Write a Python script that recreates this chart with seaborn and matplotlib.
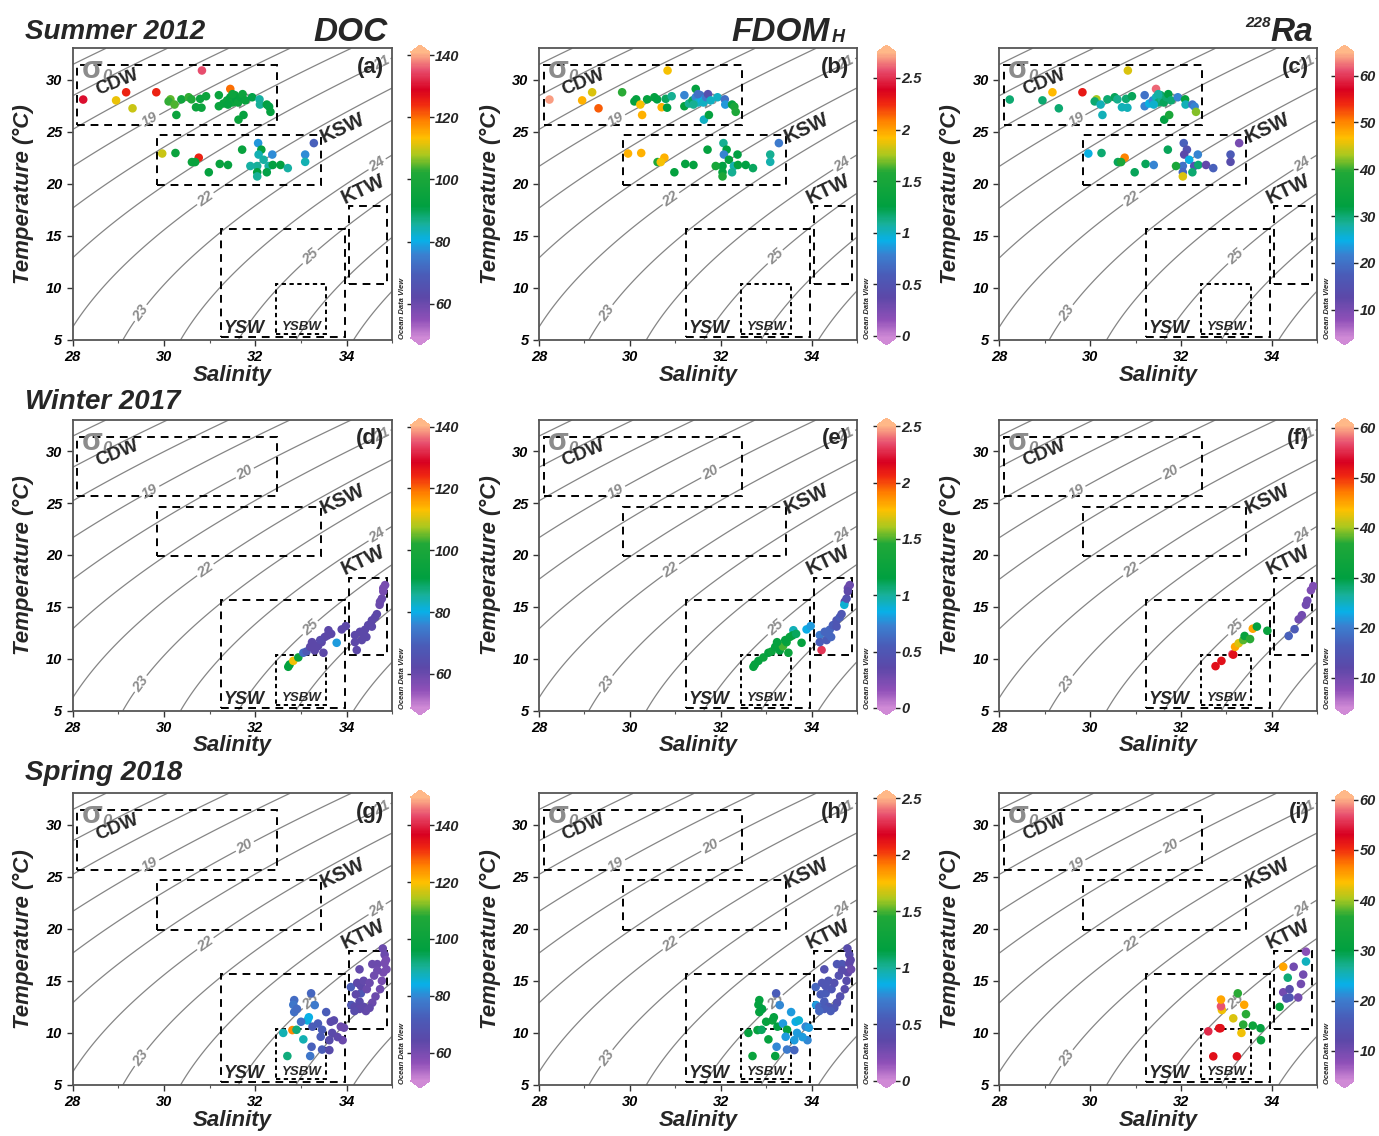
import numpy as np
import pandas as pd
import matplotlib
matplotlib.use("Agg")
import matplotlib.pyplot as plt
import seaborn as sns
from matplotlib.colors import LinearSegmentedColormap, Normalize
from matplotlib.patches import Rectangle
from matplotlib.cm import ScalarMappable

sns.set_style("ticks")
plt.rcParams['font.family'] = ['Liberation Sans', 'DejaVu Sans']

# ---- Summer 2012 (same stations for DOC, FDOM, Ra) ----
sal_su = [28.23, 28.95, 29.17, 29.31, 29.83, 30.83, 30.14, 30.10, 30.23, 30.38,
          30.54, 30.60, 30.70, 30.79, 30.92, 30.82, 30.27, 31.20, 31.20, 31.45,
          31.30, 31.38, 31.45, 31.50, 31.55, 31.58, 31.62, 31.68, 31.72, 31.78,
          31.50, 31.40, 31.63, 31.74, 31.93, 32.09, 32.10, 32.25, 32.30, 32.33,
          29.96, 30.25, 30.76, 30.61, 30.68, 30.98, 31.22, 31.40, 31.71, 32.06,
          32.13, 32.07, 32.37, 32.18, 32.04, 32.04, 32.04, 32.29, 32.38, 32.25,
          32.55, 32.71, 33.09, 33.09, 33.28, 31.89]
tem_su = [28.08, 28.00, 28.78, 27.24, 28.78, 30.87, 28.10, 27.90, 27.60, 28.10,
          28.30, 28.10, 27.34, 28.15, 28.40, 27.30, 26.60, 28.50, 27.44, 29.10,
          27.70, 28.00, 28.30, 27.80, 28.50, 28.10, 27.80, 28.30, 28.60, 28.00,
          28.60, 27.60, 26.15, 26.60, 28.30, 28.10, 27.60, 27.60, 27.40, 26.90,
          22.90, 22.95, 22.50, 22.08, 22.08, 21.10, 21.90, 21.80, 23.27, 23.90,
          23.27, 22.80, 22.80, 22.30, 21.70, 21.10, 20.70, 21.70, 21.80, 21.10,
          21.80, 21.50, 22.80, 22.10, 23.90, 21.70]
doc_su = [130, 112, 125, 110, 125, 135, 105, 103, 104, 97,
          103, 102, 95, 95, 96, 95, 95, 95, 95, 120,
          94, 95, 93, 95, 94, 92, 95, 93, 96, 94,
          95, 93, 95, 93, 91, 85, 86, 92, 91, 93,
          110, 95, 125, 95, 94, 93, 94, 93, 94, 78,
          93, 84, 77, 85, 86, 92, 86, 85, 92, 91,
          92, 85, 77, 84, 70, 85]
fdom_su = [2.70, 1.95, 1.85, 2.15, 1.60, 1.90, 1.30, 1.30, 1.90, 1.30,
           1.30, 1.25, 1.95, 1.20, 1.10, 1.25, 1.95, 0.80, 1.30, 1.30,
           1.10, 1.20, 0.80, 1.00, 0.70, 0.90, 1.00, 0.75, 0.45, 1.00,
           0.70, 1.10, 1.00, 1.30, 1.00, 0.70, 0.85, 1.30, 1.50, 1.55,
           1.95, 1.95, 1.95, 1.55, 1.90, 1.30, 1.30, 1.30, 1.30, 1.10,
           1.25, 0.80, 1.25, 1.30, 1.25, 1.30, 1.55, 1.05, 1.30, 1.10,
           1.25, 1.20, 1.10, 1.05, 0.75, 1.50]
ra_su = [30, 30, 47, 30, 55, 45, 43, 30, 27, 30,
         31, 29, 27, 30, 31, 27, 27, 20, 22, 62,
         25, 22, 27, 30, 31, 29, 31, 30, 32, 30,
         28, 26, 32, 38, 22, 33, 27, 20, 22, 42,
         25, 30, 50, 31, 38, 31, 31, 22, 31, 18,
         15, 13, 22, 25, 20, 19, 45, 15, 30, 30,
         12, 18, 17, 14, 10, 38]

# ---- Winter 2017 (DOC, FDOM) ----
sal_wi = [32.72, 32.75, 32.83, 32.94, 33.05, 33.12, 33.20, 33.27, 33.30, 33.37,
          33.45, 33.52, 33.60, 33.58, 33.49, 33.24, 33.42, 33.66, 33.78, 33.89,
          33.98, 34.18, 34.29, 34.22, 34.40, 34.47, 34.55, 34.62, 34.66, 34.33,
          34.43, 34.73, 34.72, 34.77, 34.80, 34.84, 34.80, 34.36, 34.55, 34.18]
tem_wi = [9.23, 9.45, 9.80, 10.13, 10.58, 10.70, 11.15, 11.40, 10.80, 11.20,
          11.60, 12.10, 12.75, 12.25, 10.58, 11.60, 11.80, 12.40, 11.54, 12.83,
          13.15, 12.28, 12.60, 10.84, 12.80, 13.24, 13.70, 14.00, 14.30, 11.80,
          12.10, 15.50, 15.20, 15.80, 16.80, 17.10, 16.50, 12.40, 13.10, 11.60]
doc_wi = [92, 92, 112, 95, 72, 68, 62, 62, 62, 62,
          62, 62, 62, 62, 62, 62, 63, 62, 78, 62,
          62, 62, 62, 62, 62, 62, 62, 62, 62, 62,
          62, 60, 60, 60, 58, 58, 58, 62, 62, 62]
fdom_wi = [1.20, 1.20, 1.20, 1.25, 1.20, 1.25, 1.20, 1.25, 1.20, 1.50,
           1.25, 1.25, 0.95, 1.20, 1.25, 1.20, 1.20, 1.10, 1.20, 0.85,
           0.80, 0.70, 0.60, 2.30, 0.60, 0.55, 0.50, 0.55, 0.50, 0.55,
           0.60, 0.40, 0.90, 0.45, 0.30, 0.30, 0.35, 0.60, 0.50, 0.55]

# ---- Winter 2017 (Ra) ----
sal_wi_ra = [32.76, 32.89, 33.13, 33.15, 33.19, 33.27, 33.37, 33.40, 33.52, 33.58,
             33.67, 33.90, 34.37, 34.50, 34.59, 34.66, 34.75, 34.78, 34.86, 34.91]
tem_wi_ra = [9.29, 9.80, 10.45, 10.40, 11.15, 11.50, 11.80, 12.20, 11.90, 12.90,
             13.10, 12.70, 12.20, 12.85, 13.80, 14.20, 15.20, 15.60, 16.60, 17.00]
ra_wi = [52, 52, 57, 52, 45, 42, 38, 32, 37, 45,
         31, 32, 17, 16, 10, 10, 10, 10, 9, 9]

# ---- Spring 2018 (DOC, FDOM) ----
sal_sp = [32.70, 32.61, 32.81, 32.90, 33.05, 32.85, 32.83, 32.85, 32.91, 33.22,
          33.30, 33.14, 33.17, 33.00, 33.25, 33.37, 33.46, 33.43, 33.23, 33.20,
          33.46, 33.55, 33.65, 33.72, 33.87, 33.68, 33.62, 33.62, 33.91, 33.94,
          33.80, 34.10, 34.17, 34.28, 34.31, 34.37, 34.28, 34.09, 34.56, 34.67,
          34.79, 34.83, 34.83, 34.80, 34.77, 34.73, 34.63, 34.56, 34.50, 34.42,
          34.23, 34.31, 34.37, 34.44, 34.50, 34.20, 34.28, 34.17, 34.60, 34.67,
          34.86, 34.87]
tem_sp = [7.78, 10.00, 10.27, 10.30, 9.38, 13.15, 12.70, 12.00, 12.30, 13.80,
          12.67, 11.20, 11.50, 11.07, 10.60, 10.90, 10.30, 9.63, 8.67, 7.78,
          8.40, 12.00, 11.07, 11.20, 10.60, 10.00, 9.30, 8.35, 9.30, 10.50,
          9.60, 12.67, 12.50, 13.00, 13.80, 12.50, 16.10, 14.40, 16.60, 16.60,
          18.10, 17.50, 16.70, 15.80, 15.00, 14.20, 13.50, 12.90, 12.40, 12.10,
          14.80, 14.50, 15.00, 14.20, 14.80, 13.70, 12.30, 12.10, 15.50, 16.00,
          17.00, 16.10]
doc_sp = [92, 88, 125, 92, 88, 75, 77, 76, 75, 74,
          78, 85, 84, 76, 72, 72, 72, 72, 73, 77,
          72, 72, 65, 65, 62, 65, 66, 66, 62, 62,
          64, 70, 65, 65, 70, 64, 63, 72, 62, 62,
          62, 62, 60, 60, 60, 61, 62, 62, 63, 63,
          64, 64, 63, 62, 62, 64, 64, 66, 61, 61,
          60, 60]
fdom_sp = [1.25, 1.20, 1.20, 1.10, 1.20, 1.20, 1.20, 1.20, 1.15, 0.55,
           0.75, 1.25, 1.20, 1.20, 1.15, 0.80, 1.20, 0.80, 0.75, 1.20,
           0.70, 0.80, 0.85, 0.90, 0.75, 0.80, 0.80, 0.60, 0.75, 0.80,
           0.80, 0.80, 0.60, 0.55, 0.55, 0.50, 0.45, 0.60, 0.50, 0.50,
           0.40, 0.40, 0.35, 0.35, 0.40, 0.40, 0.45, 0.45, 0.50, 0.55,
           0.50, 0.50, 0.50, 0.50, 0.45, 0.55, 0.55, 0.60, 0.45, 0.40,
           0.35, 0.30]

# ---- Spring 2018 (Ra) ----
sal_sp_ra = [32.71, 33.23, 32.60, 32.84, 32.87, 33.33, 33.37, 33.58, 33.75, 33.76,
             33.15, 33.43, 32.90, 32.88, 32.88, 33.39, 33.25, 34.17, 34.25, 34.35,
             34.25, 34.32, 34.39, 34.39, 34.48, 34.58, 34.64, 34.69, 34.75, 34.75]
tem_sp_ra = [7.75, 7.75, 10.15, 10.45, 10.45, 10.00, 10.80, 10.70, 10.45, 9.30,
             11.40, 11.80, 12.20, 12.55, 13.20, 12.70, 13.80, 12.50, 16.35, 15.30,
             13.90, 13.30, 14.20, 13.40, 16.35, 13.40, 14.70, 15.60, 16.85, 17.80]
ra_sp = [52, 52, 55, 52, 52, 43, 37, 33, 31, 32,
         42, 37, 43, 57, 45, 45, 37, 32, 45, 28,
         10, 15, 13, 15, 10, 10, 10, 10, 25, 8]

seasons = ["Summer 2012", "Winter 2017", "Spring 2018"]
letters = ["a", "b", "c", "d", "e", "f", "g", "h", "i"]

# water-mass boxes: name, S0, S1, T0, T1
boxes = [("CDW", 28.10, 32.47, 25.67, 31.40),
         ("KSW", 29.85, 33.43, 19.90, 24.65),
         ("YSW", 31.24, 33.96, 5.26, 15.64),
         ("YSBW", 32.45, 33.55, 5.55, 10.38),
         ("KTW", 34.05, 34.89, 10.38, 17.82)]

# contour label positions (level, S, T)
sig_labels = [(19, 29.70, 26.15), (20, 31.77, 27.90), (21, 34.80, 31.20),
              (22, 30.90, 18.60), (23, 29.55, 7.40), (24, 34.69, 21.70),
              (25, 33.23, 12.85)]
plain_levels = [14, 15, 16, 17, 18, 26, 27, 28]


def sigma0(S, T):
    rw = (999.842594 + 6.793952e-2 * T - 9.095290e-3 * T**2 + 1.001685e-4 * T**3
          - 1.120083e-6 * T**4 + 6.536332e-9 * T**5)
    A = 8.24493e-1 - 4.0899e-3 * T + 7.6438e-5 * T**2 - 8.2467e-7 * T**3 + 5.3875e-9 * T**4
    B = -5.72466e-3 + 1.0227e-4 * T - 1.6546e-6 * T**2
    C = 4.8314e-4
    return rw + A * S + B * S**1.5 + C * S**2 - 1000.0


cmap = LinearSegmentedColormap.from_list("odv", [
    (0.00, "#d08ad6"), (0.06, "#9050b8"), (0.14, "#5c48a8"), (0.22, "#4a5cb8"),
    (0.29, "#3a80d0"), (0.34, "#08b0e8"), (0.40, "#18b098"), (0.46, "#00a040"),
    (0.58, "#20a838"), (0.64, "#a8c820"), (0.70, "#ffc000"), (0.76, "#ff8000"),
    (0.82, "#f02810"), (0.87, "#d80020"), (0.94, "#e85070"), (1.00, "#ffb888")])

panels = [
    (sal_su, tem_su, doc_su, (49, 141), [60, 80, 100, 120, 140]),
    (sal_su, tem_su, fdom_su, (-0.02, 2.75), [0, 0.5, 1, 1.5, 2, 2.5]),
    (sal_su, tem_su, ra_su, (4, 65), [10, 20, 30, 40, 50, 60]),
    (sal_wi, tem_wi, doc_wi, (49, 140.5), [60, 80, 100, 120, 140]),
    (sal_wi, tem_wi, fdom_wi, (0, 2.51), [0, 0.5, 1, 1.5, 2, 2.5]),
    (sal_wi_ra, tem_wi_ra, ra_wi, (4, 60.5), [10, 20, 30, 40, 50, 60]),
    (sal_sp, tem_sp, doc_sp, (50, 150), [60, 80, 100, 120, 140]),
    (sal_sp, tem_sp, fdom_sp, (0, 2.51), [0, 0.5, 1, 1.5, 2, 2.5]),
    (sal_sp_ra, tem_sp_ra, ra_sp, (4, 60.5), [10, 20, 30, 40, 50, 60]),
]

W, H = 1379, 1136
fig = plt.figure(figsize=(W / 100, H / 100), dpi=100)

col_left = [72.7, 539.0, 999.3]
col_w = [319.7, 318.0, 318.0]
row_tb = [(48.3, 340.0), (420.0, 710.7), (793.3, 1085.0)]
cb_left = [410.7, 877.0, 1335.0]
cb_tb = [(45, 345), (418, 715), (790, 1088)]

sg_S, sg_T = np.meshgrid(np.linspace(28, 35, 240), np.linspace(5, 33, 240))
sg = sigma0(sg_S, sg_T)

bold_it = dict(fontweight="bold", fontstyle="italic")
line_kw = dict(colors="#858585", linewidths=0.9, zorder=1)

for k, (sal, tem, val, (vmin, vmax), cticks) in enumerate(panels):
    r, c = divmod(k, 3)
    top, bot = row_tb[r]
    ax = fig.add_axes([col_left[c] / W, 1 - bot / H, col_w[c] / W, (bot - top) / H])

    ax.contour(sg_S, sg_T, sg, levels=plain_levels, **line_kw)
    for lev, xs, ys in sig_labels:
        cs = ax.contour(sg_S, sg_T, sg, levels=[lev], **line_kw)
        txts = ax.clabel(cs, manual=[(xs, ys)], fmt="%d", fontsize=10.5,
                         colors="#8c8c8c", inline=True, inline_spacing=2)
        for t in txts:
            t.set_fontweight("bold")
            t.set_fontstyle("italic")

    for name, s0, s1, t0, t1 in boxes:
        ls = (0, (2.2, 1.8)) if name == "YSBW" else (0, (4, 3))
        ax.add_patch(Rectangle((s0, t0), s1 - s0, t1 - t0, fill=False,
                               edgecolor="black", linewidth=1.4, linestyle=ls, zorder=2))

    norm = Normalize(vmin=vmin, vmax=vmax)
    df = pd.DataFrame({"Salinity": sal, "Temperature": tem, "value": val})
    sns.scatterplot(data=df, x="Salinity", y="Temperature", hue="value",
                    palette=cmap, hue_norm=norm, s=38, linewidth=0,
                    legend=False, ax=ax, zorder=3)

    ax.text(28.42, 30.9, "σ", color="#8c8c8c", fontsize=22, fontweight="bold",
            ha="center", va="center", zorder=4)
    ax.text(28.74, 30.3, "0", color="#8c8c8c", fontsize=12, ha="center",
            va="center", zorder=4, **bold_it)
    ax.text(28.98, 29.75, "CDW", fontsize=13.5, fontweight="bold", rotation=22,
            ha="center", va="center", zorder=4)
    ax.text(33.9, 25.35, "KSW", fontsize=14.5, fontweight="bold", rotation=25,
            ha="center", va="center", zorder=4)
    ax.text(34.36, 19.5, "KTW", fontsize=14.5, fontweight="bold", rotation=25,
            ha="center", va="center", zorder=4)
    ax.text(31.74, 6.1, "YSW", fontsize=13, ha="center", va="center", zorder=4, **bold_it)
    ax.text(33.01, 6.25, "YSBW", fontsize=9.5, ha="center", va="center", zorder=4, **bold_it)
    ax.text(0.975, 0.935, f"({letters[k]})", transform=ax.transAxes, fontsize=16,
            fontweight="bold", ha="right", va="center", zorder=5)
    ax.text(1.022, 0.005, "Ocean Data View", transform=ax.transAxes, rotation=90,
            fontsize=5.5, ha="left", va="bottom", **bold_it)

    ax.set_xlim(28, 35)
    ax.set_ylim(5, 33)
    ax.set_xticks([28, 30, 32, 34])
    ax.set_xticks([29, 31, 33, 35], minor=True)
    ax.set_yticks([5, 10, 15, 20, 25, 30])
    ax.tick_params(axis="both", which="major", length=4, width=1, labelsize=10.5,
                   colors="#333333", labelcolor="black")
    ax.tick_params(axis="x", which="minor", length=2.5, width=0.8, colors="#555555")
    for lab in ax.get_xticklabels() + ax.get_yticklabels():
        lab.set_fontweight("bold")
        lab.set_fontstyle("italic")
    for sp in ax.spines.values():
        sp.set_color("#555555")
        sp.set_linewidth(1.3)
    ax.set_xlabel("Salinity", fontsize=16, **bold_it)
    ax.set_ylabel("Temperature (°C)", fontsize=16, **bold_it)
    ax.xaxis.set_label_coords(0.5, -0.085)
    ax.yaxis.set_label_coords(-0.12, 0.5)

    ctop, cbot = cb_tb[r]
    cax = fig.add_axes([cb_left[c] / W, 1 - cbot / H, 19 / W, (cbot - ctop) / H])
    sm = ScalarMappable(norm=norm, cmap=cmap)
    cb = fig.colorbar(sm, cax=cax, extend="both", extendfrac=0.025, ticks=cticks)
    cb.outline.set_linewidth(0)
    cb.ax.tick_params(direction="inout", length=6, width=1, left=True, right=True,
                      labelsize=10.5, pad=1)
    cb.ax.set_yticklabels([f"{t:g}" for t in cticks])
    for lab in cb.ax.get_yticklabels():
        lab.set_fontweight("bold")
        lab.set_fontstyle("italic")

# row and column titles
for r, name in enumerate(seasons):
    yc = [32, 402, 773][r]
    fig.text(25 / W, 1 - yc / H, name, fontsize=20, ha="left", va="center", **bold_it)
fig.text(388 / W, 1 - 41 / H, "DOC", fontsize=24, ha="right", va="baseline", **bold_it)
fig.text(830 / W, 1 - 41 / H, "FDOM", fontsize=24, ha="right", va="baseline", **bold_it)
fig.text(832 / W, 1 - 42 / H, "H", fontsize=13, ha="left", va="baseline", **bold_it)
fig.text(1313 / W, 1 - 41 / H, "Ra", fontsize=24, ha="right", va="baseline", **bold_it)
fig.text(1271 / W, 1 - 27 / H, "228", fontsize=11, ha="right", va="baseline", **bold_it)

fig.savefig("out.png", dpi=100)
